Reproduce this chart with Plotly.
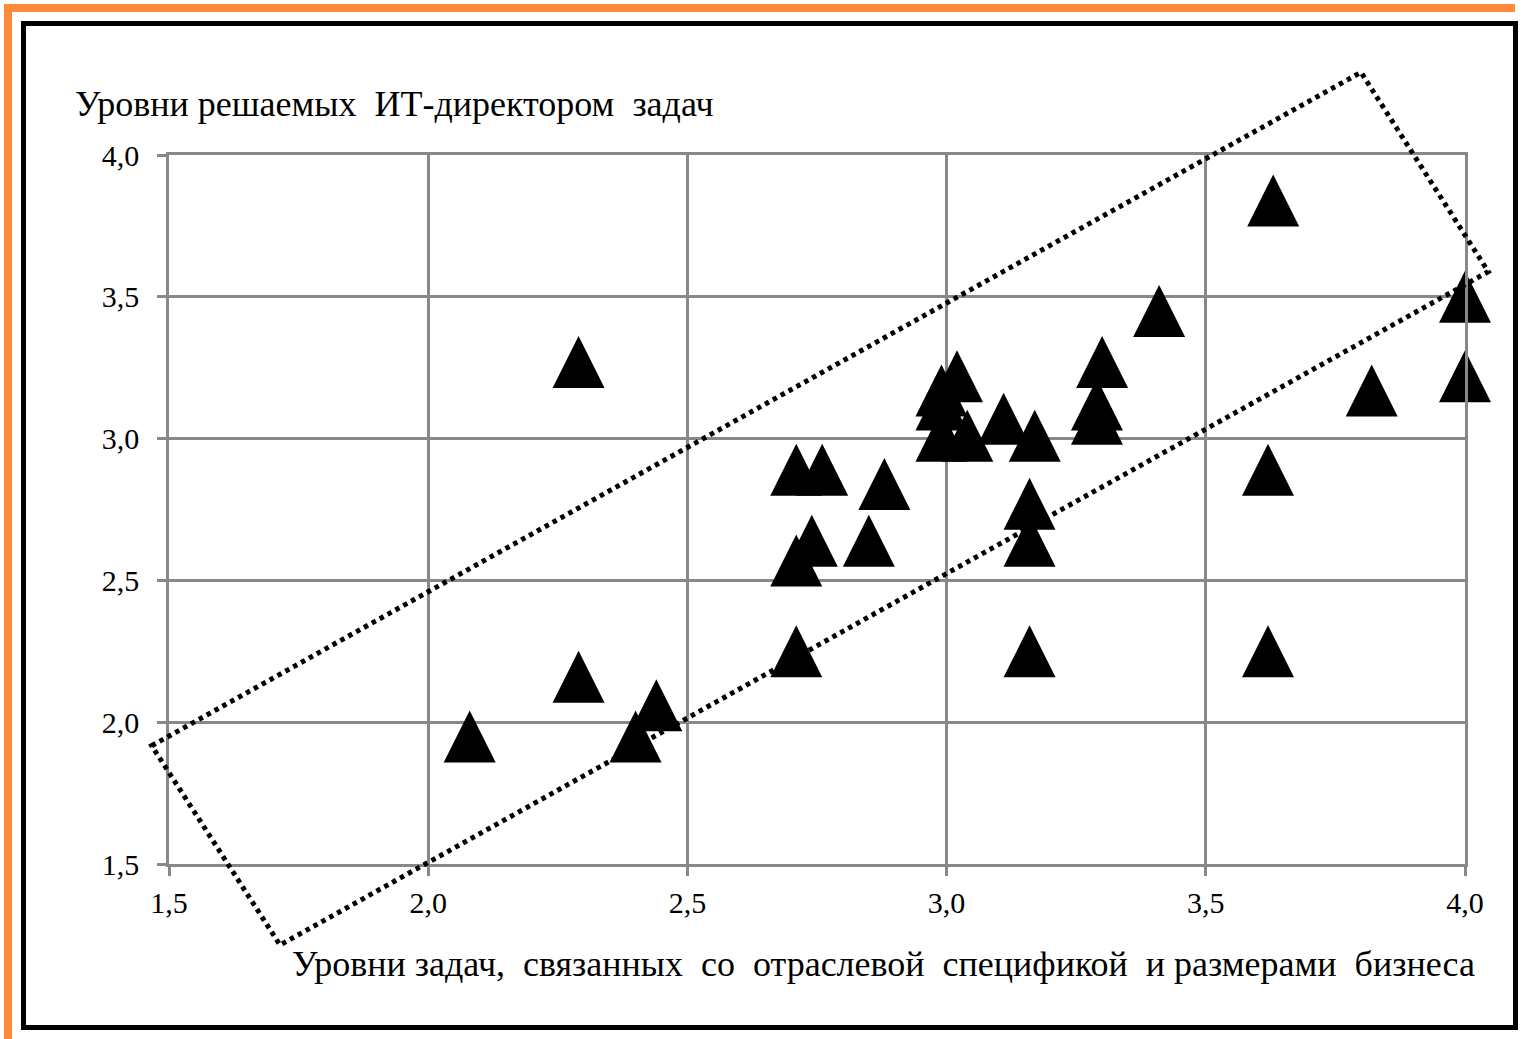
import plotly.graph_objects as go

# ---- data ----
x_vals = [2.08, 2.29, 2.29, 2.40, 2.44, 2.71, 2.76, 2.74, 2.71, 2.71, 2.85, 2.88,
          2.99, 3.02, 2.99, 2.99, 3.04, 3.11, 3.17, 3.16, 3.16, 3.16,
          3.30, 3.29, 3.29, 3.41, 3.63, 3.62, 3.62, 3.82, 4.00, 4.00]
y_vals = [1.95, 3.27, 2.16, 1.95, 2.06, 2.89, 2.89, 2.64, 2.57, 2.25, 2.64, 2.84,
          3.17, 3.22, 3.12, 3.01, 3.01, 3.07, 3.01, 2.77, 2.64, 2.25,
          3.27, 3.12, 3.07, 3.45, 3.84, 2.89, 2.25, 3.17, 3.50, 3.22]
x_ticks = [1.5, 2.0, 2.5, 3.0, 3.5, 4.0]
y_ticks = [1.5, 2.0, 2.5, 3.0, 3.5, 4.0]
tick_labels = ["1,5", "2,0", "2,5", "3,0", "3,5", "4,0"]
y_title = "Уровни решаемых  ИТ-директором  задач"
x_title = "Уровни задач,  связанных  со  отраслевой  спецификой  и размерами  бизнеса"

# ---- layout geometry (pixels) ----
W, H = 1524, 1039
L, R, T, B = 169, 1465, 155, 864


def px(X):
    return (X - L) / (R - L)


def py(Y):
    return (B - Y) / (B - T)


FONT = "Liberation Serif, Times New Roman, serif"
GRID = "#888888"

# plotly 'arrow-up' is an isosceles triangle (width = height = size) whose apex sits
# on the value; shift its axis so the marker box is centred on the value (as in Excel)
msize = 52
r = msize / 2
off = r * (4.0 - 1.5) / (B - T)

fig = go.Figure()
# keeps the primary y axis (grid / ticks) drawn
fig.add_trace(go.Scatter(x=[None], y=[None], mode="markers", showlegend=False,
                         hoverinfo="skip"))
fig.add_trace(go.Scatter(
    x=x_vals, y=y_vals, mode="markers", yaxis="y2", cliponaxis=False,
    marker=dict(symbol="arrow-up", size=msize, color="black", line=dict(width=0)),
    showlegend=False,
))

axis_common = dict(
    showgrid=True, gridcolor=GRID, gridwidth=2.5,
    showline=True, linecolor=GRID, linewidth=2.5, mirror=True,
    ticks="outside", ticklen=9, tickwidth=2.5, tickcolor=GRID,
    zeroline=False, tickfont=dict(family=FONT, size=30, color="black"),
    ticktext=tick_labels,
)

fig.update_layout(
    width=W, height=H,
    margin=dict(l=L, r=W - R, t=T, b=H - B),
    paper_bgcolor="white", plot_bgcolor="white",
    xaxis=dict(range=[1.5, 4.0], tickvals=x_ticks, ticklabelstandoff=1, **axis_common),
    yaxis=dict(range=[1.5, 4.0], tickvals=y_ticks, ticklabelstandoff=12, **axis_common),
    yaxis2=dict(range=[1.5 - off, 4.0 - off], overlaying="y", visible=False),
)

shapes = []
# orange outer frame (partially visible)
shapes.append(dict(type="line", xref="paper", yref="paper",
                   x0=px(4), y0=py(8), x1=px(1515), y1=py(8),
                   line=dict(color="#FF8A3C", width=8)))
shapes.append(dict(type="line", xref="paper", yref="paper",
                   x0=px(8), y0=py(4), x1=px(8), y1=py(1039),
                   line=dict(color="#FF8A3C", width=8)))
# black frame
shapes.append(dict(type="rect", xref="paper", yref="paper",
                   x0=px(23.5), y0=py(23.5), x1=px(1515.5), y1=py(1027.5),
                   line=dict(color="black", width=5), fillcolor="rgba(0,0,0,0)"))
# dotted tilted rectangle
corners = [(151.7, 745.7), (1361, 72.3), (1488.3, 271.7), (280, 945)]
path = "M " + " L ".join(f"{px(a):.5f},{py(b):.5f}" for a, b in corners) + " Z"
shapes.append(dict(type="path", xref="paper", yref="paper", path=path,
                   line=dict(color="black", width=5, dash="4.5px,4.5px"),
                   fillcolor="rgba(0,0,0,0)", layer="above"))
fig.update_layout(shapes=shapes)

fig.add_annotation(xref="paper", yref="paper", x=px(73), y=py(104),
                   xanchor="left", yanchor="middle", showarrow=False,
                   text=y_title, font=dict(family=FONT, size=36, color="black"))
fig.add_annotation(xref="paper", yref="paper", x=px(1477), y=py(964),
                   xanchor="right", yanchor="middle", showarrow=False,
                   text=x_title, font=dict(family=FONT, size=36, color="black"))

fig.write_html("out.html", config={"displayModeBar": False},
               post_script="document.body.style.margin='0px';")
